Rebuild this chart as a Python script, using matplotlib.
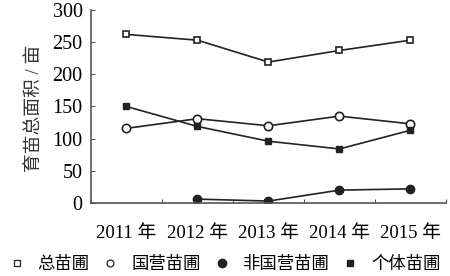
import matplotlib
matplotlib.use("Agg")
import matplotlib.pyplot as plt
from matplotlib.lines import Line2D

plt.rcParams['font.family'] = ['Liberation Serif', 'Noto Sans CJK SC']

years = ["2011 年", "2012 年", "2013 年", "2014 年", "2015 年"]
total = [262, 253, 219, 237, 253]
state = [116, 131, 120, 135, 123]
nonstate_years = [1, 2, 3, 4]
nonstate = [6, 3, 20, 22]
individual = [150, 119, 96, 84, 113]
labels = ["总苗圃", "国营苗圃", "非国营苗圃", "个体苗圃"]

fig = plt.figure(figsize=(4.5, 2.76), dpi=100)
ax = fig.add_axes([0.202, 0.2645, 0.789, 0.6995])
col = '#222222'
x = list(range(len(years)))
ms = 5
ax.plot(x, total, color=col, lw=1.2, marker='s', ms=ms, mfc='white', mec=col, mew=1.2)
ax.plot(x, state, color=col, lw=1.2, marker='o', ms=ms + 1, mfc='white', mec=col, mew=1.2)
ax.plot(nonstate_years, nonstate, color=col, lw=1.2, marker='o', ms=ms + 1, mfc=col, mec=col)
ax.plot(x, individual, color=col, lw=1.2, marker='s', ms=ms, mfc=col, mec=col)

ax.set_xlim(-0.5, len(years) - 0.5)
ax.set_ylim(0, 300)
ax.set_yticks(range(0, 301, 50))
ax.set_xticks([i + 0.5 for i in range(-1, len(years))], minor=False)
ax.set_xticklabels([])
ax.set_xticks(x, minor=True)
ax.set_xticklabels(years, minor=True, fontsize=13.5)
ax.tick_params(axis='x', which='minor', length=0, pad=16)
ax.tick_params(axis='x', which='major', direction='in', length=3, color='#555555')
ax.tick_params(axis='y', direction='in', length=3, color='#555555', labelsize=14.5, pad=6)
for s in ['top', 'right']:
    ax.spines[s].set_visible(False)
for s in ['left', 'bottom']:
    ax.spines[s].set_color('#555555')
    ax.spines[s].set_linewidth(1.2)
ax.set_ylabel("育苗总面积 / 亩", fontsize=13.5, color='#333333')
ax.yaxis.set_label_coords(-0.135, 0.49)

handles = [
    Line2D([], [], ls='none', marker='s', ms=4.5, mfc='white', mec=col, mew=0.9),
    Line2D([], [], ls='none', marker='o', ms=5, mfc='white', mec=col, mew=0.9),
    Line2D([], [], ls='none', marker='o', ms=6, mfc=col, mec=col),
    Line2D([], [], ls='none', marker='s', ms=5, mfc=col, mec=col),
]
fig.legend(handles, labels, loc='center', bbox_to_anchor=(0.5, 0.043), ncol=4,
           frameon=False, prop={'family': ['Noto Sans CJK SC'], 'size': 12.5},
           handlelength=0.8, handletextpad=0.8, columnspacing=0.8, borderaxespad=0)

fig.savefig("out.png", dpi=100)
